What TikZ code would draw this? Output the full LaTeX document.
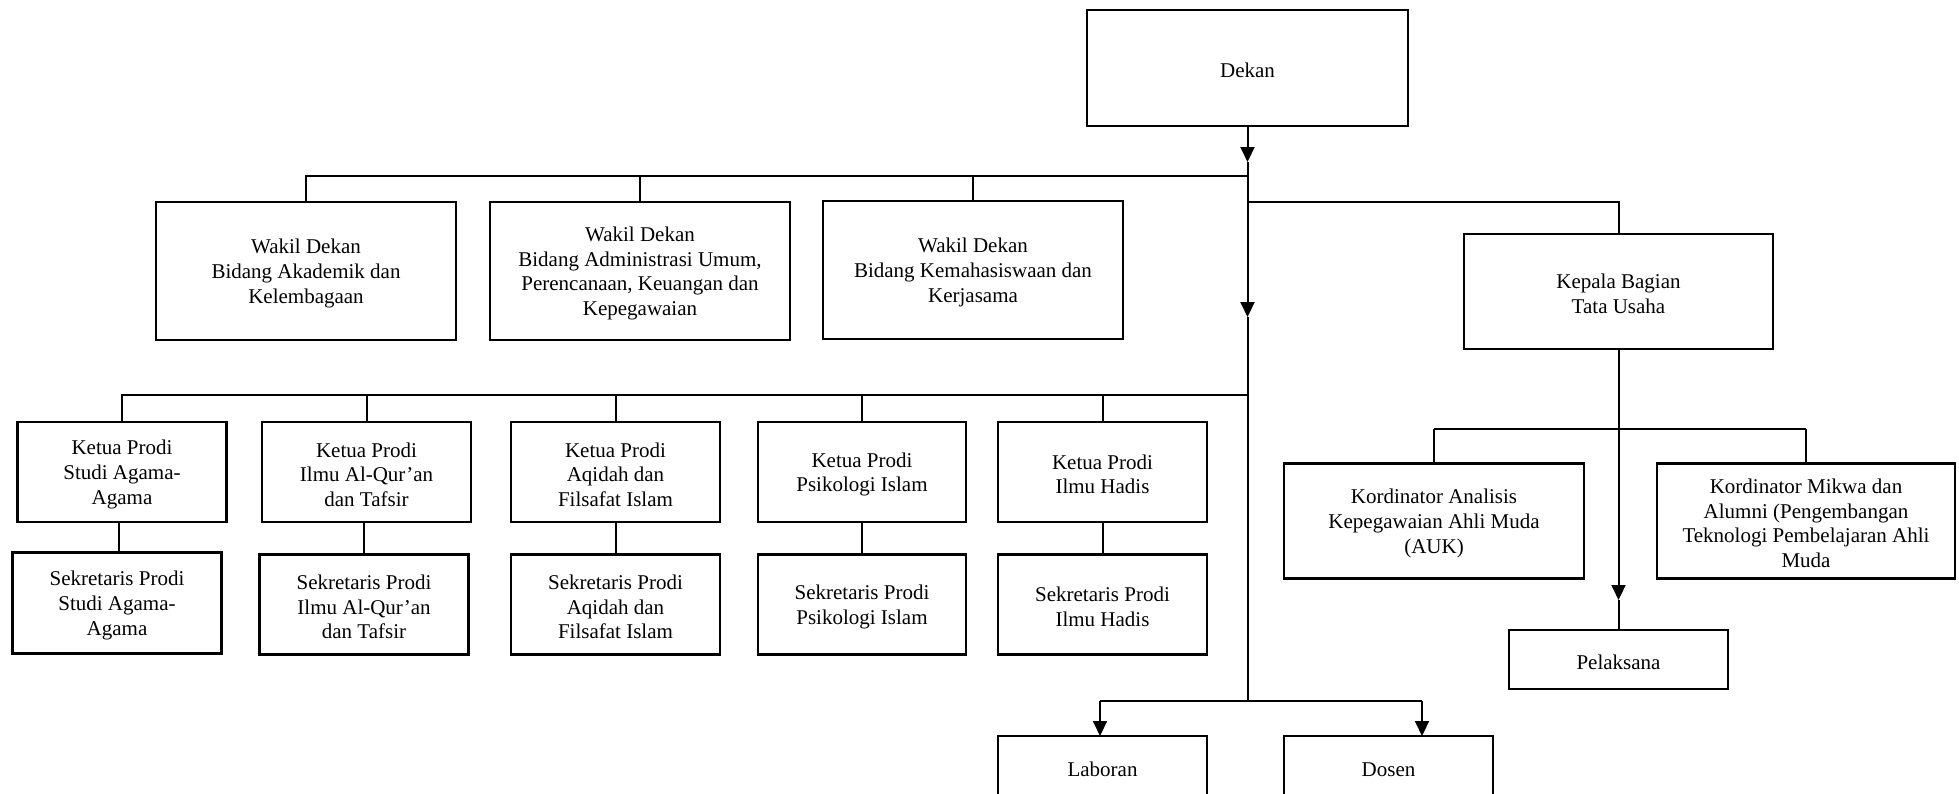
\documentclass[tikz,border=0pt]{standalone}
\usepackage{fontspec}
\setmainfont{Liberation Serif}
\usetikzlibrary{arrows.meta}
\newcommand{\tsh}{\rule{0pt}{19.5pt}}
\begin{document}
\begin{tikzpicture}[x=1pt,y=-1pt,
  box/.style={draw,line width=2.4pt,inner sep=0pt,outer sep=0pt,align=center,
    font=\fontsize{21}{24.6}\selectfont},
  conn/.style={line width=2pt},
  arr/.style={line width=2pt,-{Triangle[length=15pt,width=14pt]}}]
\useasboundingbox (0,0) rectangle (1959,793);
% nodes
\node[box,minimum width=321pt,minimum height=116pt] (dekan) at (1247.5,68) {\tsh Dekan};
\node[box,minimum width=300pt,minimum height=138pt] (w1) at (306,271) {\tsh Wakil Dekan\\Bidang Akademik dan\\Kelembagaan};
\node[box,minimum width=300pt,minimum height=138pt] (w2) at (640,271) {\tsh Wakil Dekan\\Bidang Administrasi Umum,\\Perencanaan, Keuangan dan\\Kepegawaian};
\node[box,minimum width=300pt,minimum height=138pt] (w3) at (973,270) {\tsh Wakil Dekan\\Bidang Kemahasiswaan dan\\Kerjasama};
\node[box,minimum width=309pt,minimum height=115pt] (kepala) at (1618.5,291.5) {\tsh Kepala Bagian\\Tata Usaha};
\node[box,minimum width=209pt,minimum height=100pt] (k1) at (122,472) {\tsh Ketua Prodi\\Studi Agama-\\Agama};
\node[box,minimum width=209pt,minimum height=100pt] (k2) at (366.5,472) {\tsh Ketua Prodi\\Ilmu Al-Qur’an\\dan Tafsir};
\node[box,minimum width=209pt,minimum height=100pt] (k3) at (615.5,472) {\tsh Ketua Prodi\\Aqidah dan\\Filsafat Islam};
\node[box,minimum width=208pt,minimum height=100pt] (k4) at (862,472) {\tsh Ketua Prodi\\Psikologi Islam};
\node[box,minimum width=209pt,minimum height=100pt] (k5) at (1102.5,472) {\tsh Ketua Prodi\\Ilmu Hadis};
\node[box,minimum width=209pt,minimum height=101pt] (s1) at (117,603) {\tsh Sekretaris Prodi\\Studi Agama-\\Agama};
\node[box,minimum width=209pt,minimum height=100pt] (s2) at (364,604.5) {\tsh Sekretaris Prodi\\Ilmu Al-Qur’an\\dan Tafsir};
\node[box,minimum width=209pt,minimum height=100pt] (s3) at (615.5,604.5) {\tsh Sekretaris Prodi\\Aqidah dan\\Filsafat Islam};
\node[box,minimum width=208pt,minimum height=100pt] (s4) at (862,604.5) {\tsh Sekretaris Prodi\\Psikologi Islam};
\node[box,minimum width=209pt,minimum height=100pt] (s5) at (1102.5,604.5) {\tsh Sekretaris Prodi\\Ilmu Hadis};
\node[box,minimum width=300pt,minimum height=115pt] (kord1) at (1434,521) {\tsh Kordinator Analisis\\Kepegawaian Ahli Muda\\(AUK)};
\node[box,minimum width=298pt,minimum height=115pt] (kord2) at (1806,521) {\tsh Kordinator Mikwa dan\\Alumni (Pengembangan\\Teknologi Pembelajaran Ahli\\Muda};
\node[box,minimum width=219pt,minimum height=59pt] (pel) at (1618.5,659.5) {\tsh Pelaksana};
\node[box,minimum width=209pt,minimum height=62pt] (lab) at (1102.5,767) {\tsh Laboran};
\node[box,minimum width=209pt,minimum height=62pt] (dosen) at (1388.5,767) {\tsh Dosen};
% trunk coordinates
\coordinate (a1) at (1247.5,162);
\coordinate (j1) at (1247.5,176);
\coordinate (j2) at (1247.5,202);
\coordinate (a2) at (1247.5,317);
\coordinate (j3) at (1247.5,395);
\coordinate (j4) at (1247.5,701);
\coordinate (a3) at (1618.5,600);
\coordinate (j5) at (1618.5,428.5);
\coordinate (ld) at (1100,701);
\coordinate (dd) at (1422,701);
% trunk
\draw[arr] (dekan.south) -- (a1);
\draw[conn] (a1) -- (j2);
\draw[arr] (j2) -- (a2);
\draw[conn] (a2) -- (j4);
% wakil bus
\draw[conn] (j1) -- (w1.north |- j1) -- (w1.north);
\draw[conn] (w2.north |- j1) -- (w2.north);
\draw[conn] (w3.north |- j1) -- (w3.north);
% kepala
\draw[conn] (j2) -| (kepala.north);
% prodi bus
\draw[conn] (j3) -- (k1.north |- j3) -- (k1.north);
\draw[conn] (k2.north |- j3) -- (k2.north);
\draw[conn] (k3.north |- j3) -- (k3.north);
\draw[conn] (k4.north |- j3) -- (k4.north);
\draw[conn] (k5.north |- j3) -- (k5.north);
% ketua to sekretaris
\draw[conn] (k1.south -| 119,0) -- (s1.north -| 119,0);
\draw[conn] (k2.south -| 364,0) -- (s2.north -| 364,0);
\draw[conn] (k3.south) -- (s3.north);
\draw[conn] (k4.south) -- (s4.north);
\draw[conn] (k5.south) -- (s5.north);
% kepala to kordinator and pelaksana
\draw[arr] (kepala.south) -- (a3);
\draw[conn] (a3) -- (pel.north);
\draw[conn] (kord1.north |- j5) -- (kord2.north |- j5);
\draw[conn] (kord1.north |- j5) -- (kord1.north);
\draw[conn] (kord2.north |- j5) -- (kord2.north);
% laboran / dosen
\draw[conn] (ld) -- (dd);
\draw[arr] (ld) -- (ld |- lab.north);
\draw[arr] (dd) -- (dd |- dosen.north);
\end{tikzpicture}
\end{document}
